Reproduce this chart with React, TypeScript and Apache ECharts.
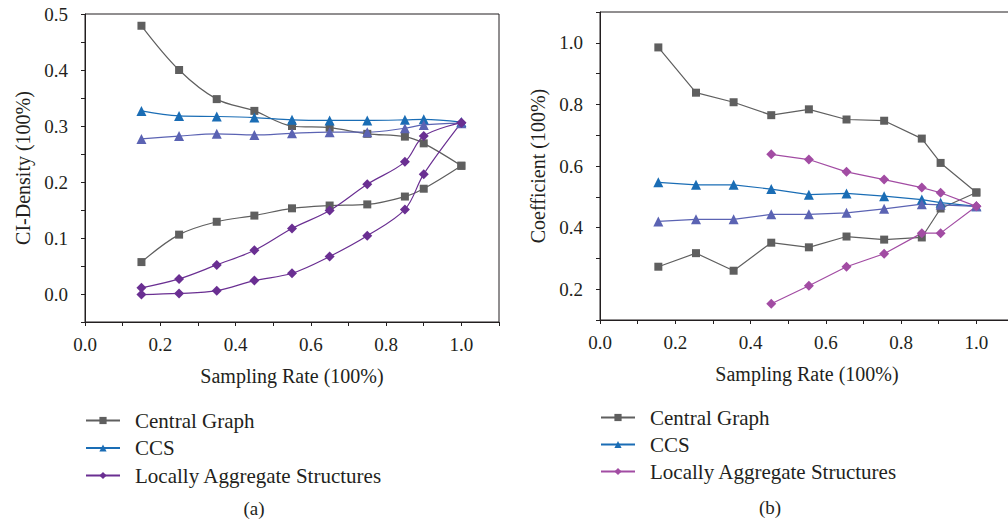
import React, { useEffect, useRef } from "react";
import * as echarts from "echarts";

// ---------- data: panel (a) CI-Density ----------
const xA = [0.15, 0.25, 0.35, 0.45, 0.55, 0.65, 0.75, 0.85, 0.9, 1.0];
const cgUpperA = [0.479, 0.4, 0.348, 0.327, 0.3, 0.297, 0.286, 0.281, 0.269, 0.229];
const cgLowerA = [0.057, 0.106, 0.129, 0.14, 0.153, 0.158, 0.16, 0.174, 0.188, 0.229];
const ccsUpperA = [0.327, 0.318, 0.317, 0.315, 0.311, 0.31, 0.31, 0.311, 0.312, 0.307];
const ccsLowerA = [0.277, 0.282, 0.286, 0.284, 0.287, 0.289, 0.289, 0.296, 0.302, 0.305];
const lasUpperA = [0.011, 0.027, 0.052, 0.078, 0.117, 0.149, 0.196, 0.236, 0.282, 0.306];
const lasLowerA = [-0.001, 0.001, 0.006, 0.024, 0.037, 0.067, 0.104, 0.151, 0.214, 0.306];

// ---------- data: panel (b) Coefficient ----------
const xB = [0.155, 0.255, 0.355, 0.455, 0.555, 0.655, 0.755, 0.855, 0.905, 1.0];
const xBLas = [0.455, 0.555, 0.655, 0.755, 0.855, 0.905, 1.0];
const cgUpperB = [0.985, 0.838, 0.807, 0.765, 0.784, 0.751, 0.747, 0.689, 0.61, 0.514];
const cgLowerB = [0.273, 0.317, 0.26, 0.351, 0.336, 0.371, 0.361, 0.368, 0.462, 0.514];
const ccsUpperB = [0.547, 0.539, 0.539, 0.525, 0.507, 0.511, 0.502, 0.491, 0.481, 0.469];
const ccsLowerB = [0.42, 0.427, 0.427, 0.443, 0.443, 0.448, 0.461, 0.476, 0.474, 0.469];
const lasUpperB = [0.638, 0.621, 0.581, 0.556, 0.53, 0.513, 0.469];
const lasLowerB = [0.153, 0.211, 0.273, 0.315, 0.382, 0.382, 0.469];

// ---------- tick labels ----------
const xLabels = [0, 0.2, 0.4, 0.6, 0.8, 1.0];
const yLabelsA = [0, 0.1, 0.2, 0.3, 0.4, 0.5];
const yLabelsB = [0.2, 0.4, 0.6, 0.8, 1.0];
const legendNames = ["Central Graph", "CCS", "Locally Aggregate Structures"];

const TEXT = "#231f20";
const FONT = "Liberation Serif";

const zip = (xs: number[], ys: number[]) => xs.map((x, i) => [x, ys[i]]);

function axes(opts: {
  xMin: number; xMax: number; xStep: number;
  yMin: number; yMax: number; yStep: number;
  yLabels: number[]; yName: string;
}) {
  const lineStyle = { color: TEXT, width: 1 };
  const labelStyle = { fontFamily: FONT, fontSize: 19, color: TEXT };
  const fmt = (v: number) => v.toFixed(1);
  return {
    xAxis: {
      type: "value", min: opts.xMin, max: opts.xMax, interval: opts.xStep, position: "bottom",
      name: "Sampling Rate (100%)", nameLocation: "middle", nameGap: 44,
      nameTextStyle: { fontFamily: FONT, fontSize: 20, color: TEXT },
      axisLine: { show: true, onZero: false, lineStyle },
      axisTick: { show: true, length: 4, lineStyle },
      axisLabel: { show: true, customValues: xLabels, formatter: fmt, margin: 13, ...labelStyle },
      splitLine: { show: false },
    },
    yAxis: {
      type: "value", min: opts.yMin, max: opts.yMax, interval: opts.yStep, position: "left",
      name: opts.yName, nameLocation: "middle", nameGap: 52,
      nameTextStyle: { fontFamily: FONT, fontSize: 20, color: TEXT },
      axisLine: { show: true, onZero: false, lineStyle },
      axisTick: { show: true, length: 4, lineStyle },
      axisLabel: { show: true, customValues: opts.yLabels, formatter: fmt, margin: 17, ...labelStyle },
      splitLine: { show: false },
    },
  };
}

function line(name: string, data: number[][], color: string, symbol: string, size: number, smooth: number | boolean) {
  return {
    type: "line", name, data, smooth,
    symbol, symbolSize: size, showSymbol: true,
    itemStyle: { color },
    lineStyle: { color, width: 1.2 },
    emphasis: { disabled: true },
  };
}

function legend(left: number, top: number, gap: number) {
  return {
    orient: "vertical", left, top, padding: 0, itemWidth: 34, itemHeight: 9, itemGap: gap,
    data: legendNames, selectedMode: false,
    textStyle: { fontFamily: FONT, fontSize: 21, color: TEXT, padding: [0, 0, 0, 10], lineHeight: 20 },
  };
}

const GRAY = "#5f5f5f";
const BLUE = "#1a6db5";
const BLUE2 = "#5b63b3";
const PURPLE = "#6a2f92";
const MAGENTA = "#a24ca3";

function optionA() {
  return {
    animation: false,
    grid: { left: 85, top: 14, width: 414, height: 308, show: true, borderColor: TEXT, borderWidth: 1 },
    ...axes({ xMin: 0, xMax: 1.1, xStep: 0.1, yMin: -0.05, yMax: 0.5, yStep: 0.05, yLabels: yLabelsA, yName: "CI-Density (100%)" }),
    legend: legend(85, 410, 6.5),
    graphic: [{ type: "text", x: 254, y: 508, style: { text: "(a)", fontFamily: FONT, fontSize: 19, fill: TEXT, align: "center", verticalAlign: "middle" } }],
    series: [
      line("Central Graph", zip(xA, cgUpperA), GRAY, "rect", 8, 0.35),
      line("Central Graph", zip(xA, cgLowerA), GRAY, "rect", 8, 0.35),
      line("CCS", zip(xA, ccsUpperA), BLUE, "triangle", 10, 0.35),
      line("CCS", zip(xA, ccsLowerA), BLUE2, "triangle", 10, 0.35),
      line("Locally Aggregate Structures", zip(xA, lasUpperA), PURPLE, "diamond", 10, 0.35),
      line("Locally Aggregate Structures", zip(xA, lasLowerA), PURPLE, "diamond", 10, 0.35),
    ],
  };
}

function optionB() {
  return {
    animation: false,
    grid: { left: 96, top: 12, width: 414, height: 308, show: true, borderColor: TEXT, borderWidth: 1 },
    ...axes({ xMin: 0, xMax: 1.1, xStep: 0.1, yMin: 0.1, yMax: 1.1, yStep: 0.1, yLabels: yLabelsB, yName: "Coefficient (100%)" }),
    legend: legend(96, 407, 6),
    graphic: [{ type: "text", x: 266, y: 507, style: { text: "(b)", fontFamily: FONT, fontSize: 19, fill: TEXT, align: "center", verticalAlign: "middle" } }],
    series: [
      line("Central Graph", zip(xB, cgUpperB), GRAY, "rect", 8, false),
      line("Central Graph", zip(xB, cgLowerB), GRAY, "rect", 8, false),
      line("CCS", zip(xB, ccsUpperB), BLUE, "triangle", 10, false),
      line("CCS", zip(xB, ccsLowerB), BLUE2, "triangle", 10, false),
      line("Locally Aggregate Structures", zip(xBLas, lasUpperB), MAGENTA, "diamond", 10, false),
      line("Locally Aggregate Structures", zip(xBLas, lasLowerB), MAGENTA, "diamond", 10, false),
    ],
  };
}

function Chart({ option, style }: { option: any; style: React.CSSProperties }) {
  const ref = useRef<HTMLDivElement>(null);
  useEffect(() => {
    if (!ref.current) return;
    const chart = echarts.init(ref.current, undefined, { renderer: "svg" });
    chart.setOption(option);
    return () => chart.dispose();
  }, [option]);
  return <div ref={ref} style={style} />;
}

const OPT_A = optionA();
const OPT_B = optionB();

export default function App() {
  return (
    <div style={{ position: "fixed", left: 0, top: 0, width: 1008, height: 525, overflow: "hidden", background: "#fff" }}>
      <Chart option={OPT_A} style={{ position: "absolute", left: 0, top: 0, width: 504, height: 525 }} />
      <Chart option={OPT_B} style={{ position: "absolute", left: 504, top: 0, width: 530, height: 525 }} />
    </div>
  );
}
